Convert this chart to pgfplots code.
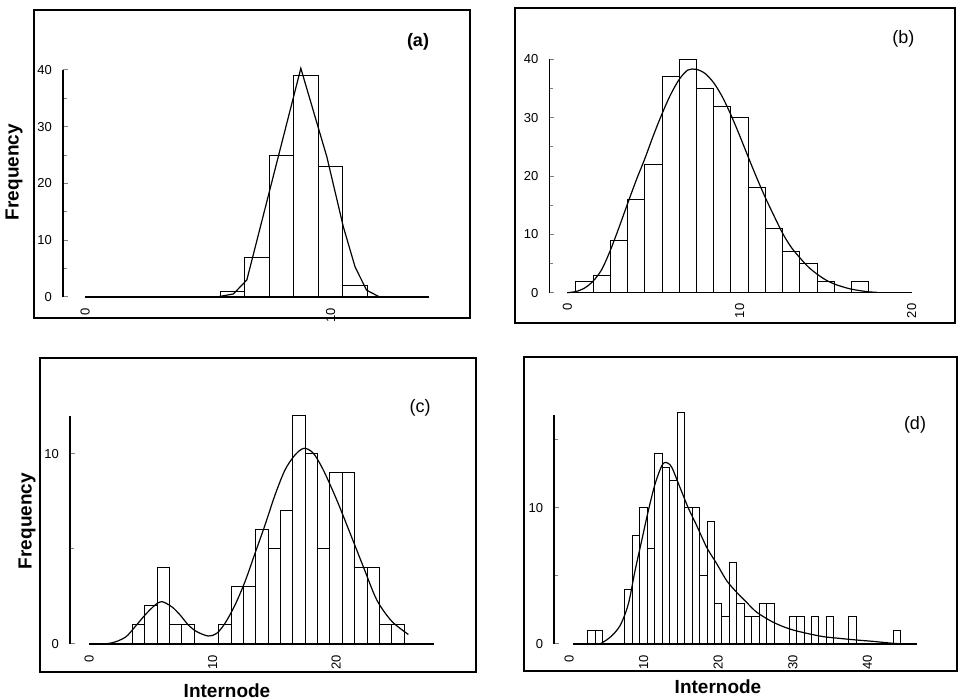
\documentclass[border=0pt]{standalone}
\usepackage{pgfplots}
\pgfplotsset{compat=1.18}
\usepackage{fontspec}
\setmainfont{Liberation Sans}

\pgfplotsset{
  panel/.style={
    scale only axis, anchor=south west, clip=false,
    axis lines=left, axis line style={-, line width=0.8pt},
    x axis line style={draw=none},
    xtick style={draw=none},
    ymin=0,
    tick align=inside,
    major tick length=2.5pt, minor tick length=1.8pt,
    ytick style={line width=0.5pt},
    x tick label style={rotate=90, anchor=east, font=\fontsize{6.5}{7}\selectfont},
    y tick label style={font=\fontsize{6.5}{7}\selectfont},
    xticklabel shift=2pt, yticklabel shift=2pt,
    /pgf/number format/assume math mode=true,
  },
  hbar/.style={ybar, bar width=1, bar shift=0pt, fill=white, draw=black, line width=0.5pt},
  fitc/.style={black, line width=0.6pt, mark=none},
}

\begin{document}
\begin{tikzpicture}
\useasboundingbox (0,0) rectangle (480pt,350pt);

% ---------------- (a) ----------------
\begin{axis}[panel, at={(31.5pt,201.5pt)}, width=182.85pt, height=113.5pt,
  xmin=-0.9, xmax=14, ymax=40, xtick={0,10},
  ytick={0,10,20,30,40}, minor ytick={5,15,25,35}]
\addplot[hbar] coordinates {(6,1) (7,7) (8,25) (9,39) (10,23) (11,2)};
\addplot[fitc] coordinates {(5.36,0) (6.04,0.53) (6.59,3.0) (8.79,40.3) (9.85,24.7) (10.52,12.4) (11.0,5.3) (11.47,1.2) (12.0,0)};
\draw[line width=0.8pt] (axis cs:0,0) -- (axis cs:14,0);
\end{axis}

% ---------------- (b) ----------------
\begin{axis}[panel, at={(274.65pt,203.65pt)}, width=181.2pt, height=116.6pt,
  xmin=-1.05, xmax=20, ymax=40, xtick={0,10,20},
  ytick={0,10,20,30,40}, minor ytick={5,15,25,35}]
\addplot[hbar] coordinates {(1,2) (2,3) (3,9) (4,16) (5,22) (6,37) (7,40) (8,35) (9,32) (10,30) (11,18) (12,11) (13,7) (14,5) (15,2) (17,2)};
\addplot[fitc, smooth] coordinates {(0,0) (0.5,0.2) (1.0,0.8) (1.5,2.0) (2.0,4.0) (2.5,7.3) (3.0,11.2) (3.5,15.3) (4.0,19.3) (4.5,23.0) (5.0,27.0) (5.5,30.7) (6.0,34.0) (6.5,36.6) (7.0,38.2) (7.5,38.3) (8.0,37.6) (8.5,36.0) (9.0,33.6) (9.5,30.5) (10.0,27.0) (10.5,23.3) (11.0,19.7) (11.5,16.3) (12.0,13.2) (12.5,10.2) (13.0,7.8) (13.5,6.0) (14.0,4.4) (14.5,3.2) (15.0,2.2) (15.5,1.5) (16.0,1.0) (16.5,0.6) (17.0,0.35) (17.5,0.15) (18.0,0.05)};
\draw[line width=0.8pt] (axis cs:0,0) -- (axis cs:20,0);
\end{axis}

% ---------------- (c) ----------------
\begin{axis}[panel, at={(35pt,28pt)}, width=181.85pt, height=114pt,
  xmin=-1.55, xmax=27.9, ymax=12, xtick={0,10,20},
  ytick={0,10}, minor ytick={5}]
\addplot[hbar] coordinates {(4,1) (5,2) (6,4) (7,1) (8,1) (11,1) (12,3) (13,3) (14,6) (15,5) (16,7) (17,12) (18,10) (19,5) (20,9) (21,9) (22,4) (23,4) (24,1) (25,1)};
\addplot[fitc, smooth] coordinates {(0,0) (1.7,0.04) (2.92,0.35) (3.72,0.91) (4.53,1.53) (5.34,2.05) (5.88,2.23) (6.69,1.96) (7.36,1.53) (8.03,1.0) (8.71,0.65) (9.65,0.42) (10.33,0.56) (11.0,1.09) (11.81,2.05) (12.62,3.28) (13.43,4.77) (14.24,6.26) (15.05,7.84) (15.86,9.16) (16.67,9.95) (17.4,10.3) (18.15,10.04) (18.96,9.16) (20.05,7.58) (21.13,5.83) (22.2,4.07) (23.29,2.32) (24.5,1.2) (25.85,0.5)};
\draw[line width=0.8pt] (axis cs:0,0) -- (axis cs:27.9,0);
\end{axis}

% ---------------- (d) ----------------
\begin{axis}[panel, at={(277.05pt,28pt)}, width=181.65pt, height=114.25pt,
  xmin=-2, xmax=46.7, ymax=16.8, xtick={0,10,20,30,40},
  ytick={0,10}, minor ytick={5,15}]
\addplot[hbar] coordinates {(3,1) (4,1) (8,4) (9,8) (10,10) (11,7) (12,14) (13,13) (14,12) (15,17) (16,10) (17,10) (18,5) (19,9) (20,3) (21,2) (22,6) (23,3) (24,2) (25,2) (26,3) (27,3) (30,2) (31,2) (33,2) (35,2) (38,2) (44,1)};
\addplot[fitc, smooth] coordinates {(4.16,0) (5.5,0.49) (6.84,1.35) (7.95,2.94) (8.85,5.39) (9.74,7.6) (10.63,9.8) (11.53,11.76) (12.43,13.1) (13.0,13.35) (13.76,13.0) (14.88,11.5) (15.99,10.0) (17.12,8.7) (18.46,7.1) (19.8,5.9) (21.14,4.65) (22.48,3.8) (23.8,3.06) (25.2,2.32) (27.4,1.59) (29.6,1.1) (31.9,0.78) (34.1,0.54) (36.3,0.41) (38.6,0.29) (40.8,0.19) (43.0,0.07) (44.8,0)};
\draw[line width=0.8pt] (axis cs:0.5,0) -- (axis cs:46.7,0);
\end{axis}

% frames
\draw[line width=1pt] (17pt,191pt) rectangle (235pt,345pt);
\draw[line width=1pt] (257.5pt,188.5pt) rectangle (477.5pt,346pt);
\draw[line width=1pt] (20pt,14pt) rectangle (238pt,171pt);
\draw[line width=1pt] (262pt,14.5pt) rectangle (478.5pt,171.5pt);

% labels
\node[rotate=90, font=\bfseries\fontsize{9.5}{11}\selectfont] at (7pt,264pt) {Frequency};
\node[rotate=90, font=\bfseries\fontsize{9.5}{11}\selectfont] at (13.5pt,89.5pt) {Frequency};
\node[font=\bfseries\fontsize{9.5}{11}\selectfont] at (113.5pt,4.5pt) {Internode};
\node[font=\bfseries\fontsize{9.5}{11}\selectfont] at (359pt,6.5pt) {Internode};
\node[font=\bfseries\fontsize{9}{10}\selectfont] at (209pt,329pt) {(a)};
\node[font=\fontsize{9}{10}\selectfont] at (451.7pt,330.8pt) {(b)};
\node[font=\fontsize{9}{10}\selectfont] at (210pt,146pt) {(c)};
\node[font=\fontsize{9}{10}\selectfont] at (457.5pt,137.5pt) {(d)};
\end{tikzpicture}
\end{document}
